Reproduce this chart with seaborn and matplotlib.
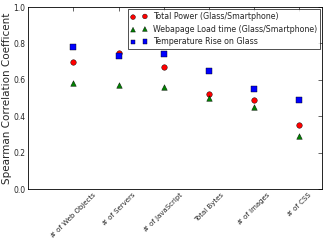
import pandas as pd
import matplotlib
matplotlib.use("Agg")
import matplotlib.pyplot as plt
import seaborn as sns

categories = [
    "# of Web Objects",
    "# of Servers",
    "# of JavaScript",
    "Total Bytes",
    "# of Images",
    "# of CSS",
]

total_power = [0.70, 0.75, 0.67, 0.52, 0.49, 0.35]
load_time = [0.58, 0.57, 0.56, 0.50, 0.45, 0.29]
temp_rise = [0.78, 0.73, 0.74, 0.65, 0.55, 0.49]

series_names = [
    "Total Power (Glass/Smartphone)",
    "Webapage Load time (Glass/Smartphone)",
    "Temperature Rise on Glass",
]

sns.set_style("white")
plt.rcParams["font.family"] = ["DejaVu Sans"]
plt.rcParams["xtick.direction"] = "in"
plt.rcParams["ytick.direction"] = "in"

pos = list(range(1, len(categories) + 1))

fig = plt.figure(figsize=(3.26, 2.43), dpi=100)
ax = fig.add_axes([0.086, 0.222, 0.902, 0.749])

# ------------------------------------------
# one scatter per series
# ------------------------------------------
styles = [
    (total_power, "red", "o", 16),
    (load_time, "green", "^", 16),
    (temp_rise, "blue", "s", 14),
]

for (vals, color, marker, size), name in zip(styles, series_names):
    df = pd.DataFrame({"x": pos, "y": vals})
    sns.scatterplot(
        data=df, x="x", y="y", ax=ax,
        color=color, marker=marker, s=size,
        linewidth=0.3, edgecolor="black", label=name
    )

ax.set_xlim(0, 6.5)
ax.set_ylim(0, 1.0)
ax.set_xticks(pos)
ax.set_xticklabels(categories, rotation=45, ha="center", fontsize=5)
ax.set_yticks([0.0, 0.2, 0.4, 0.6, 0.8, 1.0])
ax.tick_params(axis="y", labelsize=5.5, length=3, width=0.5, right=True, pad=2)
ax.tick_params(axis="x", length=3, width=0.5, top=True, pad=2)
ax.set_xlabel("")
ax.set_ylabel("Spearman Correlation Coefficent", fontsize=7.5, labelpad=1)

for spine in ax.spines.values():
    spine.set_linewidth(0.6)
    spine.set_color("black")

leg = ax.legend(
    loc="upper right", scatterpoints=2, fontsize=5.7,
    frameon=True, fancybox=False, borderpad=0.35,
    handletextpad=0.7, handlelength=2.1,
    labelspacing=0.45, borderaxespad=0.3,
    markerscale=0.85
)
leg.get_frame().set_edgecolor("black")
leg.get_frame().set_linewidth(0.6)

fig.savefig("out.png", dpi=100)
